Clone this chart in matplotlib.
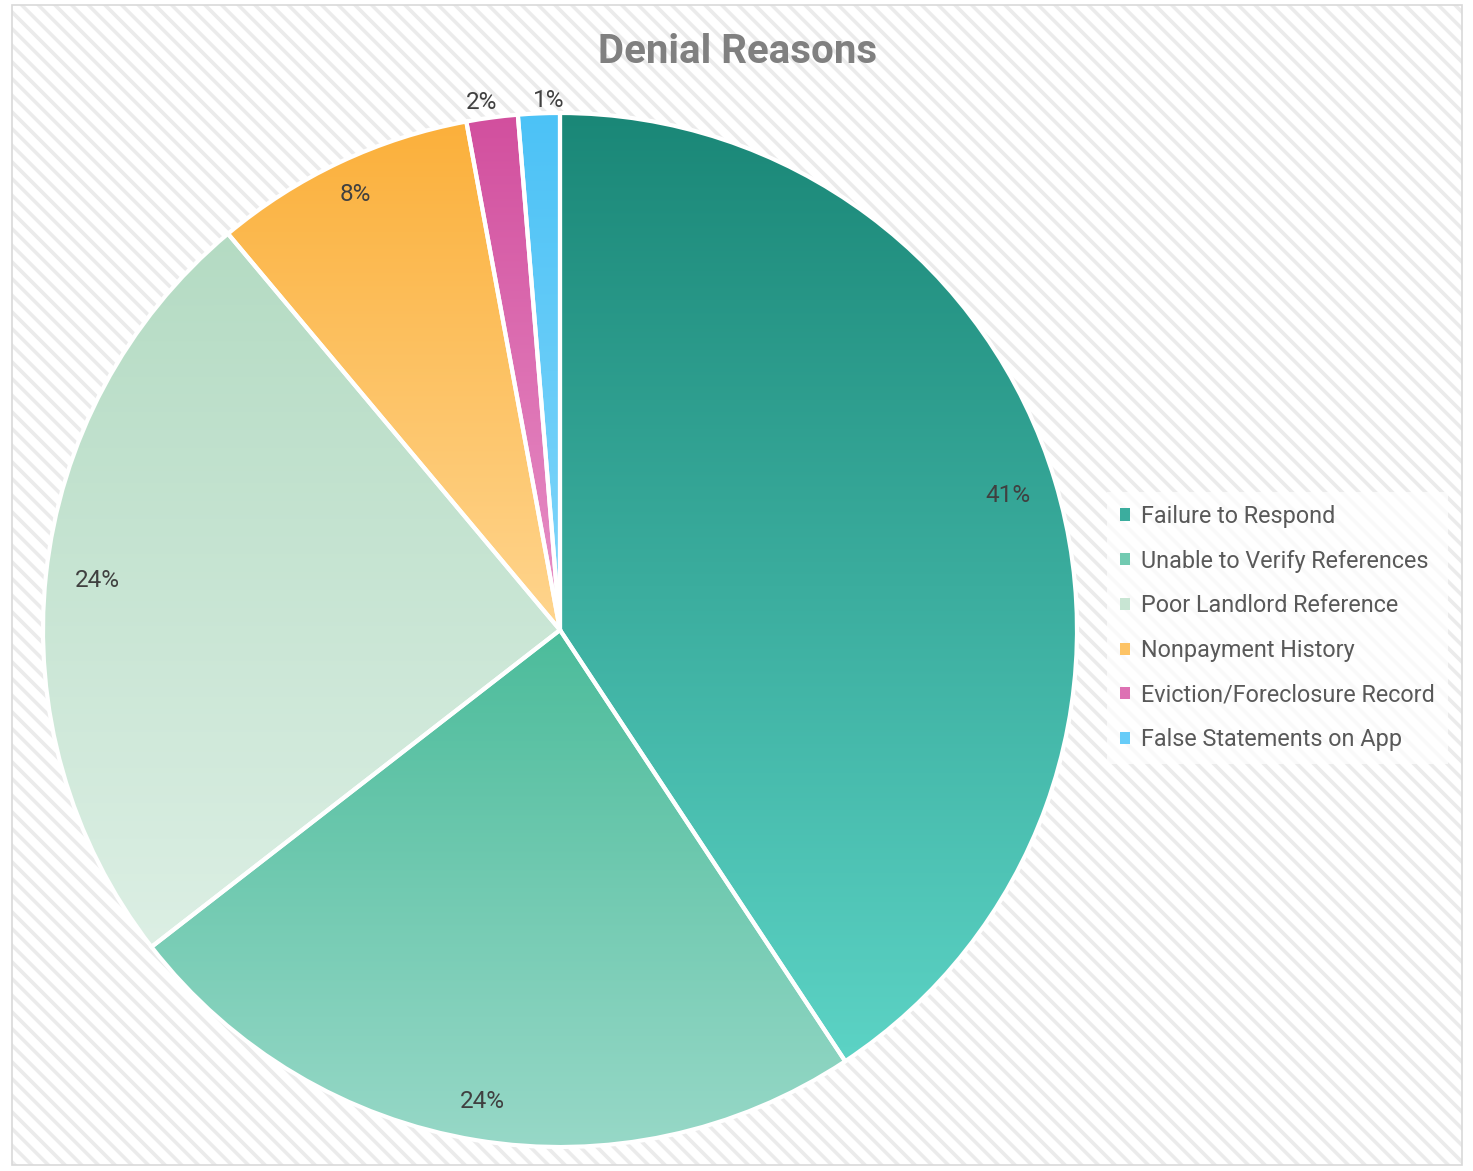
import numpy as np
import matplotlib
matplotlib.use("Agg")
import matplotlib.pyplot as plt
from matplotlib.colors import to_rgb
from matplotlib.patches import Rectangle, Patch

# denial reasons, share of all denials (%)
reasons = ['Failure to Respond', 'Unable to Verify References', 'Poor Landlord Reference',
           'Nonpayment History', 'Eviction/Foreclosure Record', 'False Statements on App']
shares = [40.7, 23.8, 24.4, 8.2, 1.6, 1.3]

# top / bottom colours of each slice's vertical gradient
top_colors = ['#1a8777', '#4cbc9b', '#b4dbc3', '#fbb03b', '#d24f9e', '#4cc2f6']
bot_colors = ['#5cd3c5', '#97d8c7', '#dcefe4', '#ffd58e', '#e892c8', '#82d6fa']

W, H = 1473, 1171
plt.rcParams['font.family'] = ['Roboto', 'DejaVu Sans']

fig = plt.figure(figsize=(W / 100, H / 100), dpi=100)
fig.patch.set_facecolor('white')
ax = fig.add_axes([0, 0, 1, 1])

# chart area with diagonal pattern fill
bg = Rectangle((12, 6), 1450, 1160, facecolor='white', edgecolor='#ebebeb',
               hatch='\\\\', lw=0, zorder=-5)
bg.set_hatch_linewidth(2.6)
ax.add_patch(bg)
ax.add_patch(Rectangle((12, 6), 1450, 1160, facecolor='none', edgecolor='#d9d9d9',
                       lw=1.2, zorder=-4))

cx, cy, R = 560, H - 630, 517
wedges, texts, autotexts = ax.pie(
    shares, startangle=90, counterclock=False, center=(cx, cy), radius=R,
    autopct='%.0f%%', pctdistance=0.91,
    wedgeprops=dict(facecolor='none', edgecolor='white', linewidth=3),
    textprops=dict(color='#404040', fontsize=17.5))

for w, c0, c1 in zip(wedges, top_colors, bot_colors):
    ext = w.get_path().get_extents()
    c0, c1 = np.array(to_rgb(c0)), np.array(to_rgb(c1))
    t = np.linspace(0, 1, 256)[:, None, None]
    grad = c0 * (1 - t) + c1 * t
    im = ax.imshow(grad, extent=(ext.x0, ext.x1, ext.y0, ext.y1), origin='upper',
                   aspect='auto', interpolation='bilinear', zorder=0)
    im.set_clip_path(w)
    w.set_zorder(2)

# label distances from centre, as a fraction of the radius
dists = [0.905, 0.925, 0.90, 0.93, 1.03, 1.025]
nudge = [0, 0, 0, 0, -8, 10]
for w, t, d, dx in zip(wedges, autotexts, dists, nudge):
    mid = np.deg2rad((w.theta1 + w.theta2) / 2)
    t.set_position((cx + d * R * np.cos(mid) + dx, cy + d * R * np.sin(mid)))
    t.set_zorder(5)

ax.set_xlim(0, W)
ax.set_ylim(0, H)
ax.set_aspect('equal')
ax.axis('off')

ax.text(738, H - 52, 'Denial Reasons', ha='center', va='center', fontsize=29,
        fontweight='bold', color='#808080')

handles = [Patch(facecolor=tuple((np.array(to_rgb(a)) + np.array(to_rgb(b))) / 2),
                 edgecolor='none') for a, b in zip(top_colors, bot_colors)]
leg = ax.legend(handles, reasons, loc='upper left', bbox_to_anchor=(1107, H - 492),
                bbox_transform=ax.transData, frameon=True, fontsize=16.8,
                handlelength=0.42, handleheight=0.42, handletextpad=0.5,
                labelspacing=0.93, borderpad=0.55, borderaxespad=0,
                fancybox=False)
leg.get_frame().set_facecolor('white')
leg.get_frame().set_alpha(0.75)
leg.get_frame().set_edgecolor('none')
for txt in leg.get_texts():
    txt.set_color('#595959')

fig.savefig('out.png', dpi=100)
